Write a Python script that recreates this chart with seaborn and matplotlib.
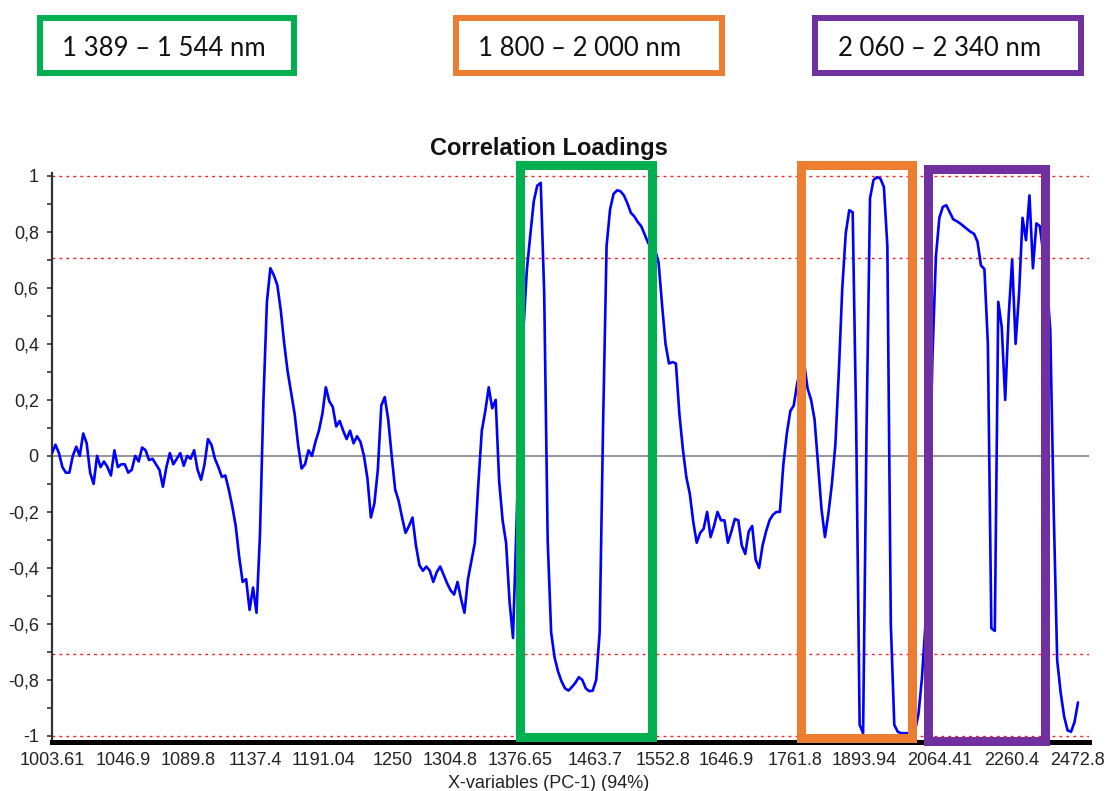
import numpy as np
import pandas as pd
import matplotlib
matplotlib.use("Agg")
import matplotlib.pyplot as plt
from matplotlib.patches import Rectangle
from matplotlib.ticker import MultipleLocator
import seaborn as sns

# Spectral sampling grid (cm-1): 1003.61 nm ... 2472.8 nm
wavenumber = np.arange(9964, 4043, -20)

# Correlation loadings of PC-1, one value per grid point
loading_pc1 = [
    0.01, 0.04, 0.01, -0.04, -0.06, -0.06, 0.0, 0.033, 0.0, 0.08,
    0.045, -0.06, -0.1, 0.0, -0.04, -0.02, -0.04, -0.07, 0.02, -0.04,
    -0.03, -0.03, -0.06, -0.05, 0.0, -0.02, 0.03, 0.02, -0.015, -0.01,
    -0.03, -0.05, -0.11, -0.04, 0.01, -0.03, -0.01, 0.01, -0.035, 0.0,
    -0.01, 0.02, -0.05, -0.085, -0.03, 0.06, 0.04, -0.01, -0.04, -0.075,
    -0.07, -0.12, -0.18, -0.25, -0.36, -0.45, -0.44, -0.55, -0.47, -0.56,
    -0.28, 0.2, 0.55, 0.67, 0.645, 0.61, 0.52, 0.4, 0.3, 0.225,
    0.15, 0.04, -0.045, -0.03, 0.02, 0.0, 0.05, 0.09, 0.15, 0.245,
    0.195, 0.175, 0.105, 0.125, 0.09, 0.06, 0.09, 0.045, 0.07, 0.05,
    0.0, -0.08, -0.22, -0.17, -0.05, 0.18, 0.21, 0.13, 0.0, -0.12,
    -0.16, -0.22, -0.275, -0.25, -0.22, -0.32, -0.39, -0.41, -0.395, -0.41,
    -0.45, -0.415, -0.395, -0.425, -0.455, -0.48, -0.495, -0.45, -0.51, -0.56,
    -0.44, -0.375, -0.31, -0.1, 0.09, 0.16, 0.245, 0.17, 0.2, -0.09,
    -0.23, -0.31, -0.52, -0.65, -0.25, 0.2, 0.45, 0.665, 0.79, 0.91,
    0.965, 0.975, 0.58, -0.3, -0.63, -0.72, -0.77, -0.805, -0.83, -0.838,
    -0.825, -0.81, -0.79, -0.8, -0.83, -0.84, -0.838, -0.8, -0.63, 0.12,
    0.75, 0.88, 0.935, 0.948, 0.945, 0.93, 0.902, 0.868, 0.855, 0.835,
    0.82, 0.79, 0.76, 0.745, 0.735, 0.69, 0.54, 0.40, 0.33, 0.335,
    0.33, 0.15, 0.025, -0.075, -0.135, -0.235, -0.31, -0.275, -0.26, -0.2,
    -0.29, -0.25, -0.2, -0.23, -0.23, -0.31, -0.27, -0.225, -0.23, -0.32,
    -0.35, -0.27, -0.25, -0.37, -0.40, -0.32, -0.27, -0.23, -0.21, -0.2,
    -0.2, -0.03, 0.08, 0.16, 0.18, 0.26, 0.31, 0.33, 0.24, 0.2,
    0.13, -0.03, -0.19, -0.29, -0.205, -0.1, 0.04, 0.3, 0.6, 0.795,
    0.877, 0.87, 0.117, -0.96, -0.99, 0.1, 0.92, 0.985, 0.995, 0.99,
    0.96, 0.75, -0.6, -0.96, -0.985, -0.99, -0.99, -0.99, -0.99, -0.98,
    -0.92, -0.79, -0.6, -0.2, 0.35, 0.71, 0.85, 0.889, 0.895, 0.87,
    0.845, 0.838, 0.83, 0.82, 0.81, 0.80, 0.793, 0.765, 0.68, 0.667,
    0.4, -0.615, -0.625, 0.55, 0.46, 0.2, 0.5, 0.7, 0.4, 0.58,
    0.85, 0.77, 0.93, 0.67, 0.83, 0.82, 0.72, 0.62, 0.45, -0.2,
    -0.73, -0.845, -0.93, -0.98, -0.985, -0.95, -0.88,
]

# Wavelength tick labels (nm)
x_tick_labels = ["1003.61", "1046.9", "1089.8", "1137.4", "1191.04", "1250",
                 "1304.8", "1376.65", "1463.7", "1552.8", "1646.9", "1761.8",
                 "1893.94", "2064.41", "2260.4", "2472.8"]
y_tick_values = [-1, -0.8, -0.6, -0.4, -0.2, 0, 0.2, 0.4, 0.6, 0.8, 1]

# Highlighted spectral bands
band_labels = ["1 389 – 1 544 nm", "1 800 – 2 000 nm", "2 060 – 2 340 nm"]
band_colors = ["#00b050", "#ed7d31", "#7030a0"]
band_lo_nm = [1377.2, 1772.4, 2037.9]
band_hi_nm = [1538.2, 2000.4, 2360.2]
band_y_lo = [-1.002, -1.007, -1.018]
band_y_hi = [1.040, 1.039, 1.025]

# Reference levels: 50 % and 100 % explained variance
ref_levels = [1.0, 0.707, -0.707, -1.0]

df = pd.DataFrame({"wavenumber": wavenumber, "loading": loading_pc1})

sns.set_theme(style="ticks")
plt.rcParams["font.family"] = ["Liberation Sans", "DejaVu Sans"]

W, H = 1108, 791
fig = plt.figure(figsize=(W / 100, H / 100), dpi=100)
ax = fig.add_axes([52 / W, (H - 741.6) / H, 1037 / W, 568.6 / H])

for lvl in ref_levels:
    ax.axhline(lvl, color="#ff1a1a", lw=1.0, ls=(0, (2, 3)), zorder=2)
ax.axhline(0, color="#8f8f8f", lw=1.3, zorder=1)

sns.lineplot(data=df, x="wavenumber", y="loading", color="#0000ff",
             lw=1.9, ax=ax, zorder=3)

ax.set_xlim(9964, 3980.5)
ax.set_ylim(-1.02, 1.01)
ax.set_xlabel("")
ax.set_ylabel("")

ax.set_xticks([1e7 / float(s) for s in x_tick_labels])
ax.set_xticklabels(x_tick_labels)
ax.set_yticks(y_tick_values)
ax.set_yticklabels([("%g" % v).replace(".", ",") for v in y_tick_values])
ax.yaxis.set_minor_locator(MultipleLocator(0.1))

ax.tick_params(axis="x", length=0, pad=7.5, labelsize=13, labelcolor="#222222")
ax.tick_params(axis="y", which="both", direction="out", length=3.5, width=1.2,
               color="#333333", pad=6, labelsize=13, labelcolor="#222222")

for side in ("top", "right"):
    ax.spines[side].set_visible(False)
ax.spines["left"].set_color("#333333")
ax.spines["left"].set_linewidth(1.6)
ax.spines["bottom"].set_color("#000000")
ax.spines["bottom"].set_linewidth(3.6)

# Band frames on the plot
for c, lo, hi, y0, y1 in zip(band_colors, band_lo_nm, band_hi_nm, band_y_lo, band_y_hi):
    x_right = 1e7 / hi
    x_left = 1e7 / lo
    ax.add_patch(Rectangle((x_right, y0), x_left - x_right, y1 - y0, fill=False,
                           ec=c, lw=6.5, clip_on=False, zorder=4, joinstyle="miter"))

# Band legend boxes above the chart
box_left_px = [40, 456, 815]
box_width_px = [254, 266, 266]
text_left_px = [62, 478, 838]
for lab, c, bx, bw, tx in zip(band_labels, band_colors, box_left_px, box_width_px, text_left_px):
    fig.add_artist(Rectangle((bx / W, 1 - 73 / H), bw / W, 55 / H,
                             transform=fig.transFigure, fill=False, ec=c, lw=4.3,
                             joinstyle="miter"))
    fig.text(tx / W, 1 - 49 / H, lab, ha="left", va="center", fontsize=18.5,
             family=["Lato", "DejaVu Sans"], color="#111111")

fig.text(549 / W, 1 - 148 / H, "Correlation Loadings", ha="center", va="center",
         fontsize=17, fontweight="bold", color="#111111")
fig.text(549 / W, 1 - 784 / H, "X-variables (PC-1) (94%)", ha="center", va="center",
         fontsize=13, color="#222222")

fig.savefig("out.png", dpi=100)
